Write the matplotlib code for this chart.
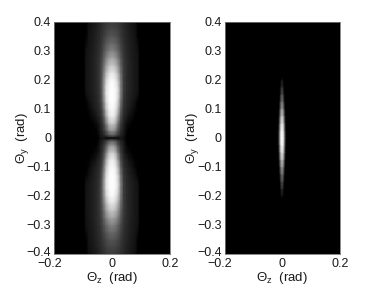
import matplotlib
matplotlib.use('Agg')
import matplotlib.pyplot as plt
from matplotlib.transforms import ScaledTranslation
import numpy as np

plt.rcParams['font.family'] = ['Liberation Sans', 'DejaVu Sans']
plt.rcParams['mathtext.fontset'] = 'custom'
plt.rcParams['mathtext.rm'] = 'Liberation Sans'
plt.rcParams['mathtext.it'] = 'Liberation Sans'
plt.rcParams['mathtext.bf'] = 'Liberation Sans'

# left panel, grey level read by eye, upper right quarter of the picture
left_z = [0, .01, .02, .03, .04, .05, .06, .07, .08, .09, .095, .20]
left_y = [0, .004, .010, .025, .05, .075, .10, .125, .15, .175, .20, .225, .25,
          .275, .30, .325, .35, .375, .40]
left_grey = [
    [4, 4, 6, 24, 16, 0, 0, 0, 0, 0, 0, 0],
    [50, 45, 30, 28, 20, 0, 0, 0, 0, 0, 0, 0],
    [95, 85, 60, 36, 24, 2, 0, 0, 0, 0, 0, 0],
    [150, 135, 85, 48, 28, 6, 0, 0, 0, 0, 0, 0],
    [205, 190, 125, 62, 34, 14, 8, 0, 0, 0, 0, 0],
    [240, 225, 165, 80, 42, 30, 16, 12, 0, 0, 0, 0],
    [250, 240, 195, 100, 50, 36, 28, 18, 8, 0, 0, 0],
    [255, 248, 212, 118, 56, 40, 32, 24, 16, 0, 0, 0],
    [255, 250, 225, 130, 60, 42, 35, 28, 22, 16, 0, 0],
    [255, 248, 222, 130, 62, 44, 36, 29, 23, 19, 0, 0],
    [250, 240, 205, 125, 62, 44, 36, 29, 23, 20, 0, 0],
    [230, 218, 180, 112, 62, 44, 36, 29, 23, 20, 0, 0],
    [200, 188, 155, 100, 60, 44, 36, 29, 23, 20, 0, 0],
    [165, 155, 128, 88, 56, 43, 35, 28, 23, 19, 0, 0],
    [130, 122, 102, 76, 52, 41, 34, 27, 22, 17, 0, 0],
    [105, 100, 86, 66, 48, 39, 32, 26, 21, 10, 0, 0],
    [85, 82, 72, 58, 45, 37, 30, 24, 20, 0, 0, 0],
    [70, 68, 62, 52, 42, 34, 28, 22, 18, 0, 0, 0],
    [60, 58, 54, 46, 38, 31, 25, 20, 14, 0, 0, 0],
]

# right panel, same idea
right_z = [0, .003, .006, .009, .012, .015, .018, .20]
right_y = [0, .025, .05, .075, .10, .125, .15, .175, .20, .21, .40]
right_grey = [
    [255, 245, 205, 120, 45, 8, 0, 0],
    [248, 232, 188, 105, 35, 4, 0, 0],
    [225, 208, 160, 85, 22, 0, 0, 0],
    [190, 170, 125, 60, 10, 0, 0, 0],
    [152, 132, 90, 35, 0, 0, 0, 0],
    [112, 95, 58, 14, 0, 0, 0, 0],
    [78, 62, 32, 0, 0, 0, 0, 0],
    [48, 34, 12, 0, 0, 0, 0, 0],
    [20, 10, 0, 0, 0, 0, 0, 0],
    [0, 0, 0, 0, 0, 0, 0, 0],
    [0, 0, 0, 0, 0, 0, 0, 0],
]

xticks = [-0.2, 0, 0.2]
xticklabels = ['\u22120.2', '0', '0.2']
yticks = [-0.4, -0.3, -0.2, -0.1, 0, 0.1, 0.2, 0.3, 0.4]
yticklabels = ['\u22120.4', '\u22120.3', '\u22120.2', '\u22120.1', '0', '0.1', '0.2', '0.3', '0.4']


def draw_panel(ax, z, y, grey):
    # the table is one quarter, mirror it to get the whole picture
    z = np.array(z)
    y = np.array(y)
    grey = np.array(grey, dtype=float)
    zz = np.concatenate([-z[:0:-1], z])
    yy = np.concatenate([-y[:0:-1], y])
    top = np.hstack([grey[:, :0:-1], grey])
    whole = np.vstack([top[:0:-1], top])
    ax.pcolormesh(zz, yy, whole, shading='gouraud', cmap='gray', vmin=0, vmax=255, rasterized=True)
    ax.set_xlim(-0.2, 0.2)
    ax.set_ylim(-0.4, 0.4)
    ax.set_xticks(xticks)
    ax.set_xticklabels(xticklabels)
    ax.set_yticks(yticks)
    ax.set_yticklabels(yticklabels)
    ax.tick_params(length=0, labelsize=9, colors='#1a1a1a')
    ax.tick_params(axis='x', pad=3)
    ax.tick_params(axis='y', pad=2)
    # the minus sign hangs out to the left in the reference
    label = ax.get_xticklabels()[0]
    label.set_transform(label.get_transform() + ScaledTranslation(-4.5 / 100, 0, fig.dpi_scale_trans))
    # bottom y label sits a little above its tick, clear of the x label
    label = ax.get_yticklabels()[0]
    label.set_transform(label.get_transform() + ScaledTranslation(0, 2.5 / 100, fig.dpi_scale_trans))
    for spine in ax.spines.values():
        spine.set_color('#777777')
        spine.set_linewidth(0.6)
    ax.set_xlabel(r'$\Theta_z$  (rad)', fontsize=9.5, labelpad=0, color='#1a1a1a')
    ax.set_ylabel(r'$\Theta_y$  (rad)', fontsize=9.5, labelpad=-3, color='#1a1a1a')


W, H = 381, 286
fig = plt.figure(figsize=(W / 100, H / 100), dpi=100)
ax1 = fig.add_axes([54 / W, 1 - 254 / H, 116 / W, 232.5 / H])
ax2 = fig.add_axes([224.5 / W, 1 - 254 / H, 115.5 / W, 232.5 / H])
draw_panel(ax1, left_z, left_y, left_grey)
draw_panel(ax2, right_z, right_y, right_grey)

fig.savefig('out.png', dpi=100)
